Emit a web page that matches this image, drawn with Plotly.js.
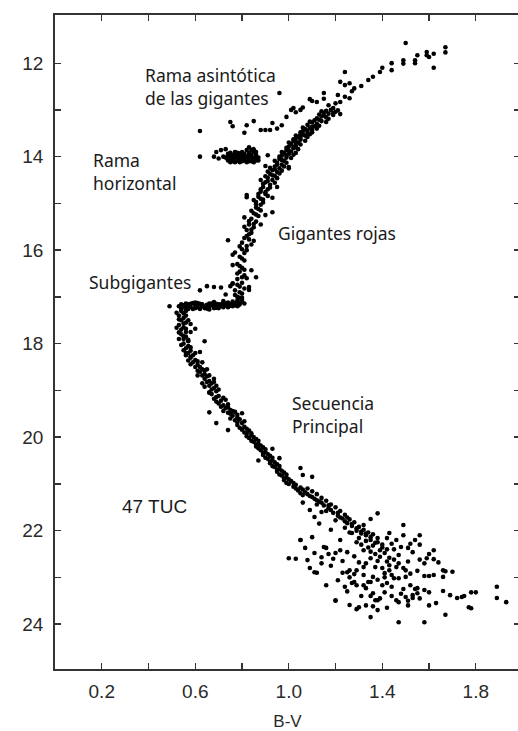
<!DOCTYPE html>
<html>
<head>
<meta charset="utf-8">
<script src="https://cdn.plot.ly/plotly-3.0.1.min.js"></script>
<style>
html, body { margin:0; padding:0; overflow:hidden; background:#ffffff; }
#chart { width:520px; height:731px; }
</style>
</head>
<body>
<div id="chart"></div>
<script>
// Colour–magnitude diagram of 47 Tuc: each pair is [B-V, V]
const rgbTip = [[1.50,11.57],[1.59,11.83],[1.60,11.87],[1.59,11.76],[1.67,11.66],[1.67,11.77],[1.62,12.10],[1.55,11.83],[1.54,11.94],[1.54,12.00],[1.49,11.94],[1.49,12.01],[1.44,12.00],[1.44,12.15],[1.40,12.10],[1.39,12.19],[1.36,12.29],[1.34,12.36],[1.31,12.49],[1.28,12.54],[1.26,12.43],[1.24,12.47],[1.22,12.40],[1.24,12.19],[1.24,12.72],[1.22,12.83],[1.20,12.86],[1.27,12.60],[1.21,12.68],[1.17,12.90],[1.15,12.76],[1.26,12.75],[1.19,12.96],[1.62,11.80]];

const agb = [[0.62,13.45],[0.75,13.26],[0.76,13.35],[0.82,13.33],[0.81,13.49],[0.85,13.24],[0.88,13.43],[0.90,13.43],[0.92,13.43],[0.93,13.28],[0.95,13.40],[0.97,13.33],[0.96,12.64],[0.99,13.15],[1.01,13.00],[1.03,13.05],[1.02,12.96],[1.05,13.00],[1.06,12.95],[1.10,12.81],[1.12,12.83],[1.15,12.64],[1.09,12.77]];

const hb = [[0.74,13.98],[0.75,14.04],[0.76,13.96],[0.77,14.02],[0.78,14.08],[0.79,13.98],[0.80,14.04],[0.81,13.94],[0.82,14.00],[0.83,14.06],[0.84,13.96],[0.85,14.02],[0.86,14.08],[0.84,13.86],[0.83,13.80],[0.85,13.90],[0.86,13.96],[0.76,14.10],[0.79,14.12],[0.82,14.12],[0.85,14.12],[0.78,13.92],[0.81,14.08],[0.77,13.90],[0.80,13.90],[0.75,13.92],[0.73,14.02],[0.87,14.02],[0.82,13.86],[0.62,14.00],[0.68,14.00],[0.69,13.90],[0.71,13.86],[0.73,13.84],[0.70,14.04],[0.91,13.97]];

const hbCore = [[0.74,14.08],[0.75,13.98],[0.76,14.06],[0.77,13.96],[0.78,14.02],[0.79,14.06],[0.80,13.97],[0.81,14.02],[0.82,14.06],[0.83,13.98],[0.84,14.03],[0.85,14.07],[0.86,14.00],[0.74,13.94],[0.76,14.00],[0.78,13.97],[0.80,14.10],[0.83,14.10],[0.86,13.90],[0.85,13.84],[0.83,13.92],[0.77,14.12],[0.84,14.10],[0.79,13.93],[0.81,13.98],[0.87,14.08],[0.72,14.00],[0.75,14.12]];

const rgb = [[1.18,13.00],[1.16,13.02],[1.20,13.04],[1.15,13.06],[1.17,13.08],[1.13,13.10],[1.19,13.07],[1.14,13.14],[1.16,13.16],[1.12,13.18],[1.11,13.22],[1.14,13.24],
[1.10,13.27],[1.12,13.30],[1.08,13.32],[1.11,13.35],[1.09,13.38],[1.07,13.41],[1.10,13.43],[1.06,13.46],[1.08,13.49],[1.05,13.52],[1.07,13.55],[1.04,13.58],[1.09,13.52],[1.03,13.61],
[1.05,13.64],[1.02,13.67],[1.04,13.70],[1.01,13.73],[1.03,13.76],[1.00,13.79],[1.02,13.82],[0.99,13.86],[1.01,13.89],[0.98,13.92],[1.00,13.95],[0.97,13.98],[1.02,13.96],
[0.99,14.02],[0.96,14.05],[0.98,14.09],[0.95,14.13],[0.97,14.17],[0.94,14.21],[0.96,14.25],[0.93,14.29],[0.95,14.33],[0.92,14.37],[0.94,14.41],[0.91,14.45],[0.97,14.30],[0.90,14.20],
[0.93,14.50],[0.90,14.55],[0.92,14.60],[0.89,14.65],[0.91,14.70],[0.88,14.75],[0.90,14.80],[0.87,14.86],[0.89,14.92],[0.86,14.97],[0.93,14.88],
[0.88,15.03],[0.86,15.09],[0.88,15.15],[0.85,15.21],[0.87,15.27],[0.84,15.33],[0.86,15.39],[0.83,15.45],[0.85,15.51],[0.82,15.57],[0.88,15.45],[0.81,15.30],
[0.84,15.63],[0.82,15.70],[0.83,15.77],[0.80,15.84],[0.82,15.91],[0.80,15.98],[0.81,16.06],[0.79,16.14],[0.81,16.22],[0.78,16.30],[0.85,15.80],[0.77,16.05],
[0.80,16.38],[0.79,16.46],[0.81,16.54],[0.78,16.62],[0.80,16.70],[0.79,16.78],[0.77,16.86],[0.80,16.93],[0.78,17.00],[0.82,16.60],[0.76,16.72],[0.83,16.85]];

const rgbCore = [[1.21,13.01],[1.14,13.03],[1.19,13.11],[1.22,13.09],[1.15,13.12],[1.17,13.19],[1.13,13.21],[1.16,13.26],[1.09,13.25],[1.13,13.34],[1.10,13.36],[1.06,13.38],[1.12,13.40],[1.08,13.44],[1.05,13.48],[1.10,13.48],[1.06,13.53],[1.03,13.55],[1.08,13.58],[1.05,13.60],[1.02,13.63],[1.07,13.66],[1.03,13.69],[1.00,13.70],[1.05,13.74],[1.02,13.79],[0.99,13.81],[1.04,13.84],[1.00,13.88],[0.97,13.90],[1.03,13.92],[0.99,13.97],[0.96,14.00],[1.01,14.03],[0.97,14.07],[0.94,14.09],[0.99,14.13],[0.95,14.17],[0.92,14.24],[0.98,14.21],[0.94,14.27],[0.91,14.32],[0.96,14.36],[0.93,14.40],[0.90,14.42],[0.95,14.46],[0.91,14.52],[0.94,14.56],[0.89,14.58],[0.92,14.66],[0.88,14.70],[0.90,14.76],[0.87,14.80],[0.91,14.84],[0.88,14.90],[0.85,14.93],[0.89,14.98],[0.86,15.02],[0.87,15.12],[0.84,15.16],[0.86,15.24],[0.83,15.38],[0.85,15.44],[0.81,15.50],[0.84,15.56],[0.83,15.66],[0.81,15.74],[0.84,15.88],[0.79,15.92],[0.82,16.00],[0.80,16.18],[0.79,16.34],[0.81,16.42],[0.78,16.50],[0.80,16.58],[0.78,16.74],[0.81,16.82],[0.79,16.90],[0.77,16.96],[0.80,17.02]];

const rgbScatter = [[0.74,15.79],[0.76,16.10],[0.76,16.32],[0.84,16.43],[0.86,16.58],[0.83,16.79],[0.82,14.87],[0.93,15.19],[0.90,15.25],[1.00,14.22],[0.88,14.50],[0.82,14.82],[1.03,13.80],[0.95,14.65],[1.00,14.25]];

const sgb = [[0.53,17.20],[0.55,17.18],[0.56,17.24],[0.57,17.16],[0.58,17.21],[0.59,17.26],[0.60,17.18],[0.61,17.22],[0.62,17.15],[0.63,17.20],[0.64,17.24],[0.65,17.17],[0.66,17.21],[0.67,17.14],[0.68,17.19],[0.69,17.23],[0.70,17.16],[0.71,17.20],[0.72,17.13],[0.73,17.18],[0.74,17.12],[0.75,17.16],[0.76,17.10],[0.77,17.14],[0.78,17.08],[0.79,17.12],[0.80,17.06],[0.785,17.18],[0.56,17.14],[0.59,17.13],[0.62,17.26],[0.66,17.27],[0.70,17.24],[0.74,17.22],[0.54,17.26],[0.60,17.12],[0.68,17.11],[0.72,17.09],[0.76,17.20],[0.79,17.02],
[0.49,17.20],[0.62,16.86],[0.65,16.77],[0.68,16.79],[0.71,16.80],[0.75,16.77],[0.76,16.71],[0.73,16.95]];

const sgbCore = [[0.54,17.16],[0.55,17.22],[0.57,17.20],[0.58,17.15],[0.60,17.24],[0.61,17.17],[0.63,17.16],[0.64,17.21],[0.65,17.25],[0.67,17.18],[0.68,17.24],[0.69,17.15],[0.71,17.16],[0.72,17.22],[0.73,17.14],[0.75,17.19],[0.76,17.14],[0.77,17.18],[0.78,17.12],[0.79,17.16],[0.80,17.10],[0.81,17.14],[0.57,17.26],[0.61,17.13],[0.66,17.14],[0.70,17.20],[0.74,17.16],[0.78,17.20]];

const turnoff = [[0.54,17.30],[0.55,17.35],[0.53,17.40],[0.55,17.45],[0.54,17.50],[0.56,17.55],[0.53,17.60],[0.55,17.65],[0.54,17.70],[0.56,17.75],[0.54,17.80],[0.56,17.85],[0.55,17.90],[0.57,17.95],[0.55,18.00],[0.57,18.05],[0.56,18.10],[0.58,18.15],[0.57,18.20],[0.59,18.25],[0.58,18.30],[0.60,18.35],[0.59,18.40],[0.61,18.45],[0.62,18.50],[0.63,18.55],[0.62,18.60],[0.64,18.65],[0.65,18.70],[0.64,18.75],[0.66,18.80],[0.67,18.85],[0.66,18.90],[0.68,18.95],[0.57,17.50],[0.56,17.30],[0.56,18.25],[0.60,18.20],[0.63,18.40],[0.65,18.55],[0.68,18.75],[0.69,18.90],[0.58,17.58],[0.60,17.68],[0.64,17.95],[0.61,18.68],[0.63,18.85],[0.66,19.05],[0.62,18.18],[0.58,17.75]];

const turnoffCore = [[0.52,17.34],[0.56,17.40],[0.53,17.48],[0.55,17.57],[0.52,17.66],[0.56,17.68],[0.53,17.76],[0.55,17.84],[0.53,17.90],[0.57,17.92],[0.54,18.03],[0.58,18.08],[0.55,18.14],[0.56,18.20],[0.58,18.28],[0.57,18.36],[0.61,18.38],[0.58,18.44],[0.60,18.50],[0.61,18.58],[0.64,18.57],[0.63,18.68],[0.66,18.68],[0.65,18.82],[0.68,18.82],[0.67,18.98],[0.70,18.98],[0.64,18.92]];

const msUpper = [[0.69,19.02],[0.67,19.08],[0.70,19.12],[0.68,19.18],[0.71,19.22],[0.73,19.20],[0.70,19.28],[0.72,19.32],[0.74,19.30],[0.73,19.38],[0.75,19.42],[0.74,19.48],[0.77,19.46],[0.76,19.54],[0.78,19.58],[0.77,19.64],[0.79,19.62],[0.80,19.70],[0.78,19.74],[0.81,19.78],[0.80,19.84],[0.83,19.86],[0.82,19.92],[0.84,19.96],[0.83,20.02],[0.86,20.04],[0.85,20.10],[0.87,20.14],[0.86,20.20],[0.89,20.22],[0.88,20.28],[0.90,20.32],[0.89,20.38],[0.92,20.40],[0.91,20.46],[0.93,20.50],[0.92,20.56],[0.95,20.58],[0.94,20.64],[0.96,20.68],[0.95,20.74],[0.98,20.76],[0.97,20.82],[0.99,20.86],[0.98,20.92],[1.01,20.94],[1.00,21.00],[1.03,21.02],
[0.66,19.47],[0.69,19.70],[0.80,19.49],[0.74,19.85],[0.93,20.25],[1.05,20.66],[1.06,20.81],[1.10,20.85],[0.87,20.50],[0.96,20.45]];

const msCore = [[0.66,19.04],[0.69,19.14],[0.72,19.16],[0.69,19.24],[0.71,19.35],[0.74,19.36],[0.72,19.44],[0.76,19.44],[0.75,19.50],[0.78,19.52],[0.75,19.60],[0.78,19.68],[0.81,19.66],[0.79,19.80],[0.82,19.82],[0.81,19.90],[0.84,19.92],[0.82,19.98],[0.85,20.00],[0.84,20.08],[0.87,20.08],[0.86,20.16],[0.88,20.18],[0.87,20.24],[0.90,20.26],[0.89,20.34],[0.91,20.36],[0.90,20.44],[0.93,20.44],[0.92,20.52],[0.94,20.54],[0.93,20.62],[0.96,20.62],[0.95,20.70],[0.97,20.72],[0.96,20.80],[0.99,20.80],[0.98,20.88],[1.00,20.90],[0.99,20.98],[1.02,20.98],[1.03,21.10],[1.06,21.12],[1.05,21.20],[1.08,21.22],[1.10,21.28],[1.12,21.35],[1.14,21.40],[1.17,21.46],[1.18,21.56],[1.21,21.62],[1.22,21.72],[1.25,21.72],[1.24,21.80],[1.27,21.86],[1.29,21.95],[1.31,22.02],[1.33,22.06],[1.35,22.20],[1.37,22.26],[1.40,22.36],[1.42,22.40]];

const msMid = [[1.02,21.06],[1.05,21.08],[1.04,21.14],[1.08,21.10],[1.07,21.18],[1.10,21.16],[1.06,21.24],[1.09,21.26],[1.12,21.22],[1.11,21.32],[1.14,21.30],[1.13,21.38],[1.16,21.36],[1.12,21.44],[1.15,21.46],[1.18,21.44],[1.17,21.52],[1.20,21.50],[1.16,21.58],[1.19,21.62],[1.22,21.58],[1.21,21.68],[1.24,21.66],[1.23,21.74],[1.20,21.78],[1.26,21.76],[1.25,21.84],[1.28,21.82],[1.27,21.90],[1.24,21.94],[1.30,21.92],[1.29,22.00],[1.32,21.98],[1.26,22.04],[1.31,22.06],[1.34,22.04],
[1.09,21.56],[1.14,21.60],[1.11,21.71],[1.10,22.14],[1.07,22.37],[1.15,22.35],[1.22,22.20],[1.38,21.63],[1.49,21.88],[1.32,21.88],[1.06,21.40],[1.13,21.85],[1.18,21.98],[1.05,22.20],[1.35,21.75]];

const msLower = [[1.33,22.10],[1.36,22.08],[1.30,22.16],[1.35,22.14],[1.38,22.16],[1.33,22.22],[1.42,22.16],[1.43,22.05],[1.46,22.20],[1.38,22.25],[1.36,22.32],[1.40,22.30],[1.44,22.28],[1.39,22.42],[1.41,22.48],[1.35,22.45],[1.32,22.42],[1.29,22.25],[1.27,22.05],[1.48,22.35],[1.51,22.37],[1.53,22.46],[1.45,22.40],[1.47,22.52],[1.43,22.58],[1.35,22.59],[1.38,22.65],[1.40,22.80],[1.43,22.85],[1.47,23.02],[1.52,23.17],[1.55,23.23],[1.25,22.46],[1.22,22.42],[1.20,22.48],[1.16,22.37],[1.14,22.57],[1.11,22.48],[1.08,22.63],[1.11,22.89],[1.16,23.17],[1.20,23.49],[1.26,23.59],[1.30,23.64],[1.35,23.85],[1.38,23.49],[1.33,23.23],[1.28,23.10],[1.26,22.85],[1.29,22.85],[1.32,22.95],[1.36,22.99],[1.40,23.17],[1.46,23.49],[1.50,23.42],[1.53,23.38],[1.58,23.27],[1.67,23.80],[1.74,23.42],[1.80,23.32],[1.89,23.20],[1.89,23.44],[1.93,23.53],[1.77,23.64],[1.58,23.96],[1.47,23.96],[1.62,22.42],[1.62,22.61],[1.59,22.59],[1.67,22.87],[1.66,22.99],[1.58,22.97],
[1.00,22.59],[1.03,22.60],[1.05,22.20],[1.09,22.80],[1.12,22.90],[1.21,23.06],[1.25,22.89],[1.27,23.12],[1.28,22.93],[1.32,22.78],[1.37,22.78],[1.41,22.91],[1.43,22.74],[1.45,23.02],[1.47,22.70],[1.50,22.99],[1.54,23.25],[1.58,22.70],[1.60,22.97],[1.62,22.95],[1.66,22.85],[1.37,23.49],[1.39,23.45],[1.47,23.53],[1.53,23.44],[1.55,23.34],[1.60,23.32],[1.66,23.29],[1.69,23.38],[1.75,23.40],[1.78,23.32],[1.78,23.66],[1.72,23.44],[1.33,23.60],[1.36,23.62],[1.41,23.32],[1.36,23.34],[1.29,23.68],[1.20,23.50],[1.29,23.17],[1.32,23.17],[1.34,23.10],
[1.49,22.10],[1.52,22.28],[1.56,22.30],[1.60,22.50],[1.64,22.68],[1.56,22.62],[1.51,22.66],[1.49,22.80],[1.55,22.86],[1.44,22.95],[1.70,22.88],[1.35,23.10],[1.42,23.12],[1.49,23.25],[1.31,23.40],[1.25,23.30],[1.18,22.75],[1.14,22.70],[1.23,22.65],[1.42,23.65],[1.38,23.70],[1.51,23.60],[1.63,23.55],
[1.31,22.30],[1.34,22.36],[1.37,22.50],[1.42,22.66],[1.45,22.62],[1.39,22.56],[1.46,22.78],[1.50,22.85],[1.52,22.92],[1.41,23.00],[1.38,23.05],[1.44,23.20],[1.48,23.35],[1.51,23.50],[1.56,23.45],[1.60,23.60],[1.26,23.00],[1.23,22.90],[1.19,22.60],[1.28,22.55],[1.30,22.68],[1.33,22.70],[1.17,22.50],[1.24,23.20],[1.44,23.40],[1.35,23.40],[1.56,22.10],[1.54,22.20]];

const xTickVals = [0.2,0.4,0.6,0.8,1.0,1.2,1.4,1.6,1.8];
const xTickText = ['0.2','','0.6','','1.0','','1.4','','1.8'];
const yTickVals = [12,13,14,15,16,17,18,19,20,21,22,23,24];
const yTickText = ['12','','14','','16','','18','','20','','22','','24'];

const labels = [
  {text:'Rama asintótica<br>de las gigantes', bv:0.375, v:12.49},
  {text:'Rama<br>horizontal', bv:0.153, v:14.32},
  {text:'Subgigantes', bv:0.136, v:16.68},
  {text:'Gigantes rojas', bv:0.944, v:15.64},
  {text:'Secuencia<br>Principal', bv:1.004, v:19.52}
];
const clusterName = {text:'47 TUC', bv:0.277, v:21.48};

const branches = [rgbTip, agb, hb, hbCore, rgb, rgbCore, rgbScatter, sgb, sgbCore, turnoff, turnoffCore, msUpper, msCore, msMid, msLower];
const allPts = [].concat(...branches);

const trace = {
  type:'scatter', mode:'markers',
  x: allPts.map(p=>p[0]), y: allPts.map(p=>p[1]),
  marker:{color:'#000000', size:4.6, line:{width:0}},
  hoverinfo:'x+y', showlegend:false
};

const annFont = {family:'"Noto Sans", "Open Sans", sans-serif', size:17.5, color:'#1a1a1a'};
const annotations = labels.map(l => ({
  x:l.bv, y:l.v, xref:'x', yref:'y', text:l.text, showarrow:false,
  xanchor:'left', yanchor:'middle', align:'left', font:annFont
}));
annotations.push({x:clusterName.bv, y:clusterName.v, xref:'x', yref:'y', text:clusterName.text,
  showarrow:false, xanchor:'left', yanchor:'middle', font:{family:'"Liberation Sans", Arial, sans-serif', size:19, color:'#1a1a1a'}});

const axisCommon = {
  showline:true, linecolor:'#333333', linewidth:1.8, mirror:'ticks',
  ticks:'inside', ticklen:6, tickwidth:1.3, tickcolor:'#333333',
  showgrid:false, zeroline:false,
  tickfont:{family:'"Liberation Sans", Arial, sans-serif', size:19, color:'#2a2a2a'}
};

const layout = {
  width:520, height:731,
  margin:{l:55, r:0, t:15, b:62},
  paper_bgcolor:'#ffffff', plot_bgcolor:'#ffffff',
  xaxis: Object.assign({}, axisCommon, {
    range:[0, 1.989], tickmode:'array', tickvals:xTickVals, ticktext:xTickText,
    ticklabelstandoff:4,
    title:{text:'B-V', font:{family:'"Liberation Sans", Arial, sans-serif', size:17, color:'#2a2a2a'}, standoff:16}
  }),
  yaxis: Object.assign({}, axisCommon, {
    range:[24.96, 10.97], tickmode:'array', tickvals:yTickVals, ticktext:yTickText,
    ticklabelstandoff:6
  }),
  annotations: annotations,
  showlegend:false
};

Plotly.newPlot('chart', [trace], layout, {displayModeBar:false, staticPlot:true});
</script>
</body>
</html>
